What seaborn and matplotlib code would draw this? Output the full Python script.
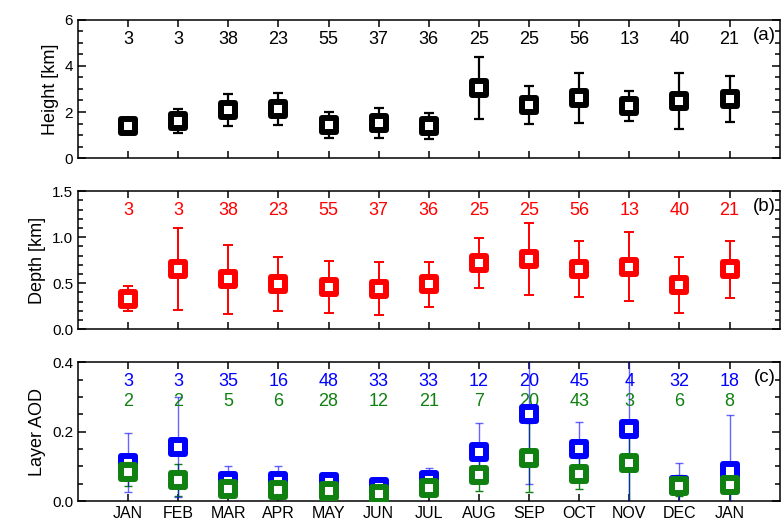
import numpy as np
import matplotlib
matplotlib.use('agg')
import matplotlib.pyplot as plt
import seaborn as sns
from matplotlib.ticker import MultipleLocator
from matplotlib.markers import MarkerStyle

# --- data

months = ["JAN", "FEB", "MAR", "APR", "MAY", "JUN", "JUL",
          "AUG", "SEP", "OCT", "NOV", "DEC", "JAN"]

height_mean = [1.38, 1.62, 2.10, 2.12, 1.42, 1.51, 1.40, 3.03, 2.30, 2.62, 2.28, 2.48, 2.58]
height_err  = [0.20, 0.53, 0.69, 0.70, 0.57, 0.65, 0.57, 1.35, 0.84, 1.08, 0.65, 1.20, 1.00]
height_n    = [3, 3, 38, 23, 55, 37, 36, 25, 25, 56, 13, 40, 21]

depth_mean = [0.33, 0.65, 0.54, 0.49, 0.46, 0.44, 0.49, 0.72, 0.76, 0.65, 0.68, 0.48, 0.65]
depth_err  = [0.135, 0.445, 0.37, 0.295, 0.28, 0.29, 0.245, 0.275, 0.39, 0.305, 0.375, 0.30, 0.31]
depth_n    = [3, 3, 38, 23, 55, 37, 36, 25, 25, 56, 13, 40, 21]

aod_blue_mean = [0.110, 0.156, 0.058, 0.058, 0.054, 0.040, 0.060, 0.140, 0.250, 0.150, 0.209, 0.046, 0.087]
aod_blue_err  = [0.085, 0.145, 0.042, 0.042, 0.026, 0.018, 0.035, 0.086, 0.200, 0.078, 0.220, 0.063, 0.160]
aod_blue_n    = [3, 3, 35, 16, 48, 33, 33, 12, 20, 45, 4, 32, 18]

aod_green_mean = [0.083, 0.060, 0.034, 0.032, 0.030, 0.019, 0.037, 0.075, 0.125, 0.079, 0.109, 0.044, 0.046]
aod_green_err  = [0.040, 0.046, 0.020, 0.025, 0.020, 0.015, 0.020, 0.047, 0.100, 0.045, 0.120, 0.030, 0.060]
aod_green_n    = [2, 2, 5, 6, 28, 12, 21, 7, 20, 43, 3, 6, 8]

xpos = np.arange(1, len(months) + 1)

# --- style

sns.set_theme(style="ticks")
plt.rcParams['font.family'] = ['Liberation Sans', 'DejaVu Sans']
plt.rcParams.update({'axes.edgecolor': 'black', 'axes.linewidth': 1.1,
                     'xtick.color': 'black', 'ytick.color': 'black',
                     'text.color': 'black', 'axes.labelcolor': 'black'})

fig = plt.figure(figsize=(7.82, 5.25), dpi=100)
left, width = 0.0997, 0.8973
ax_a = fig.add_axes([left, 0.699, width, 0.263])
ax_b = fig.add_axes([left, 0.373, width, 0.263])
ax_c = fig.add_axes([left, 0.0457, width, 0.2643])

square = MarkerStyle('s', joinstyle='round')
MSIZE, MEDGE = 88, 4.3


def draw_series(ax, mean, err, color, elw, capsize, alpha=1.0, zo=2):
    ax.errorbar(xpos, mean, yerr=err, fmt='none', ecolor=color, elinewidth=elw,
                capsize=capsize, capthick=elw, alpha=alpha, zorder=zo)
    sns.scatterplot(x=xpos, y=mean, ax=ax, marker=square, s=MSIZE,
                    facecolor='white', edgecolor=color, linewidth=MEDGE,
                    zorder=zo + 1, legend=False)


def put_counts(ax, counts, color, yfrac):
    for xi, n in zip(xpos, counts):
        ax.text(xi, yfrac, str(n), color=color, fontsize=13, ha='center',
                va='center', transform=ax.get_xaxis_transform())


# (a) layer height
draw_series(ax_a, height_mean, height_err, 'black', 1.6, 3.5)
put_counts(ax_a, height_n, 'black', 0.86)
ax_a.set_ylim(0, 6)
ax_a.yaxis.set_major_locator(MultipleLocator(2))
ax_a.yaxis.set_minor_locator(MultipleLocator(0.5))
ax_a.set_ylabel('Height [km]', fontsize=13)

# (b) layer depth
draw_series(ax_b, depth_mean, depth_err, 'red', 1.4, 3.5)
put_counts(ax_b, depth_n, 'red', 0.857)
ax_b.set_ylim(0, 1.5)
ax_b.yaxis.set_major_locator(MultipleLocator(0.5))
ax_b.yaxis.set_minor_locator(MultipleLocator(0.1))
ax_b.yaxis.set_major_formatter('{x:3.1f}')
ax_b.set_ylabel('Depth [km]', fontsize=13)

# (c) layer AOD
ax_c.errorbar(xpos, aod_green_mean, yerr=aod_green_err, fmt='none', ecolor='#108010',
              elinewidth=1.0, capsize=3, capthick=1.0, zorder=2)
ax_c.errorbar(xpos, aod_blue_mean, yerr=aod_blue_err, fmt='none', ecolor='#0000ff',
              elinewidth=1.0, capsize=3, capthick=1.0, alpha=0.6, zorder=3)
sns.scatterplot(x=xpos, y=aod_blue_mean, ax=ax_c, marker=square, s=MSIZE,
                facecolor='white', edgecolor='#0000ff', linewidth=MEDGE, zorder=4, legend=False)
sns.scatterplot(x=xpos, y=aod_green_mean, ax=ax_c, marker=square, s=MSIZE,
                facecolor='white', edgecolor='#108010', linewidth=MEDGE, zorder=5, legend=False)
put_counts(ax_c, aod_blue_n, '#0000ff', 0.863)
put_counts(ax_c, aod_green_n, '#108010', 0.714)
ax_c.set_ylim(0, 0.4)
ax_c.yaxis.set_major_locator(MultipleLocator(0.2))
ax_c.yaxis.set_minor_locator(MultipleLocator(0.05))
ax_c.yaxis.set_major_formatter('{x:3.1f}')
ax_c.set_ylabel('Layer AOD', fontsize=13)

for ax, tag in zip([ax_a, ax_b, ax_c], ['(a)', '(b)', '(c)']):
    ax.set_xlim(0, 14)
    ax.set_xticks(xpos)
    ax.set_xlabel('')
    ax.tick_params(which='both', direction='in', top=True, right=True,
                   color='black', width=1.1)
    ax.tick_params(axis='x', which='major', length=5)
    ax.tick_params(axis='y', which='major', length=6, labelsize=11)
    ax.tick_params(axis='y', which='minor', length=3.5)
    ax.text(0.994, 0.888, tag, transform=ax.transAxes, ha='right', va='center', fontsize=13.5)
    for s in ax.spines.values():
        s.set_visible(True)
        s.set_color('black')

ax_a.set_xticklabels([])
ax_b.set_xticklabels([])
ax_c.set_xticklabels(months, fontsize=11.5)

plt.savefig('out.png', dpi=100)
